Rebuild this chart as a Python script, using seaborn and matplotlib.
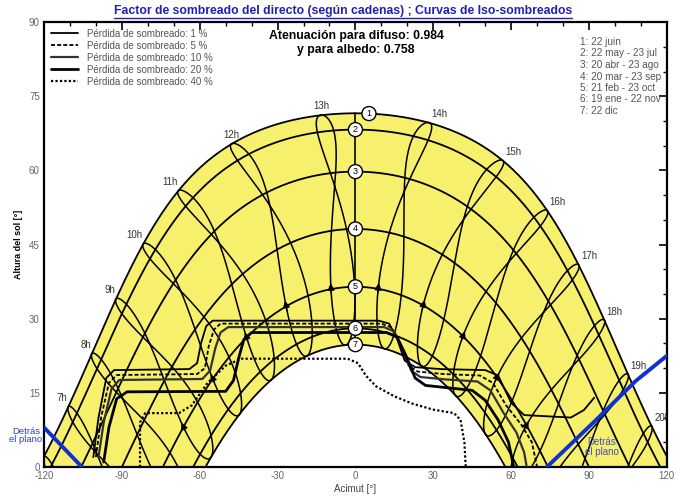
import numpy as np
import pandas as pd
import matplotlib
matplotlib.use("Agg")
import matplotlib.pyplot as plt
from matplotlib.lines import Line2D
from matplotlib.ticker import MultipleLocator
import seaborn as sns

# ---------------- data ----------------
LATITUDE = 41.85            # from noon altitudes of curves 1 and 7
TIME_OFFSET_H = 1.283       # legal time minus mean solar time (from hour loops)

date_ids = ["1", "2", "3", "4", "5", "6", "7"]
date_labels = ["1: 22 juin", "2: 22 may - 23 jul", "3: 20 abr - 23 ago",
               "4: 20 mar - 23 sep", "5: 21 feb - 23 oct", "6: 19 ene - 22 nov",
               "7: 22 dic"]
date_declinations = [23.4, 20.1, 11.6, 0.0, -11.7, -20.1, -23.4]
circle_hour_angles = [1.8, 0, 0, 0, 0, 0, 0]

hours = list(range(6, 21))
hour_labels = [f"{h}h" for h in hours]

loss_labels = ["Pérdida de sombreado: 1 %", "Pérdida de sombreado: 5 %",
               "Pérdida de sombreado: 10 %", "Pérdida de sombreado: 20 %",
               "Pérdida de sombreado: 40 %"]

iso1_az = [-101, -99, -96, -93, -64, -61, -59.5, -57.5, -55, 9, 13, 16, 19, 23, 33, 50, 55, 60, 65, 83, 88, 92]
iso1_alt = [2, 10, 18, 19.6, 19.8, 21, 25, 28.5, 29.6, 29.6, 29, 26, 21.5, 20.2, 19.8, 19.6, 18.5, 13, 10.5, 10, 11.5, 14]
iso5_az = [-100, -98, -95, -92, -61, -58, -56.5, -54.5, -52, 10, 14, 17.5, 20.5, 24, 34, 48, 53, 58, 64, 68, 70]
iso5_alt = [2, 10, 17, 18.6, 18.8, 20, 24.5, 27.8, 29.0, 29.0, 28.2, 24.5, 20.5, 19.3, 18.8, 18.5, 17, 12.5, 8.5, 5, 0]
iso10_az = [-99, -97, -94, -91, -59, -56, -54, -52, -49, 11, 15, 18.5, 21.5, 25, 35, 47, 52, 57, 62, 65, 66]
iso10_alt = [2, 9, 15.8, 17.6, 17.8, 19.5, 24, 27.2, 28.3, 28.3, 27.4, 23.5, 19.5, 18.2, 17.7, 17.3, 15.5, 11, 7, 3, 0]
iso20_az = [-97, -95, -92, -88, -50, -47, -45, -43, -40, 12, 16, 19.5, 23, 27, 36, 45, 50, 55, 59, 61]
iso20_alt = [1, 8, 13.8, 15.2, 15.3, 17.5, 22, 25.8, 27.2, 27.2, 26.3, 22.5, 18, 16.5, 16, 15.5, 13.5, 9.5, 5, 0]
iso40_az = [-83, -83, -81, -68, -63, -57, -50, -44, -3, 1, 4, 8, 15, 22, 30, 38, 40.5, 42, 42.5]
iso40_alt = [0, 9, 10.9, 10.9, 12.5, 17, 20.5, 21.9, 21.9, 21, 18.5, 16.3, 14.3, 12.8, 11.6, 10.9, 9.5, 5, 0]

plane_left_az = [-120, -105.4]
plane_left_alt = [8.0, 0.0]
plane_right_az = [73.8, 92.7, 108, 120]
plane_right_alt = [0.0, 9.5, 17.4, 22.5]

# ---------------- solar geometry ----------------
def sun_pos(dec_deg, h_deg):
    lat = np.radians(LATITUDE)
    d = np.radians(dec_deg)
    h = np.radians(h_deg)
    s = np.sin(lat) * np.sin(d) + np.cos(lat) * np.cos(d) * np.cos(h)
    alt = np.degrees(np.arcsin(np.clip(s, -1, 1)))
    az = np.degrees(np.arctan2(np.sin(h), np.cos(h) * np.sin(lat) - np.tan(d) * np.cos(lat)))
    return az, alt

def day_dec_eot(n):
    b = 2 * np.pi * (n - 1) / 365.0
    dec = (0.006918 - 0.399912 * np.cos(b) + 0.070257 * np.sin(b) - 0.006758 * np.cos(2 * b)
           + 0.000907 * np.sin(2 * b) - 0.002697 * np.cos(3 * b) + 0.00148 * np.sin(3 * b))
    eot = 229.18 * (0.000075 + 0.001868 * np.cos(b) - 0.032077 * np.sin(b)
                    - 0.014615 * np.cos(2 * b) - 0.040849 * np.sin(2 * b))
    return np.degrees(dec), eot

def segments(az, alt):
    pos = alt > 0
    out = []
    start = None
    for i, p in enumerate(pos):
        if p and start is None:
            start = i
        if (not p or i == len(pos) - 1) and start is not None:
            end = i + 1 if p else i
            if end - start > 1:
                out.append((az[start:end], alt[start:end]))
            start = None
    return out

def line(ax, x, y, **kw):
    df = pd.DataFrame({"x": np.asarray(x, float), "y": np.asarray(y, float)})
    sns.lineplot(data=df, x="x", y="y", sort=False, estimator=None, ax=ax, **kw)

# ---------------- figure ----------------
sns.set_theme(style="white")
plt.rcParams["font.family"] = ["Liberation Sans", "DejaVu Sans"]
plt.rcParams["axes.unicode_minus"] = False

fig = plt.figure(figsize=(6.77, 4.96), dpi=100)
ax = fig.add_axes([0.065, 0.0585, 0.920, 0.897])
ax.set_xlim(-120, 120)
ax.set_ylim(0, 90)

H = np.linspace(-180, 180, 1441)
curves = []
for dec in date_declinations:
    az, alt = sun_pos(dec, H)
    m = alt >= 0
    curves.append((az[m], alt[m]))

# yellow sun region
grid = np.linspace(-120, 120, 961)
azj, altj = curves[0]
azd, altd = curves[-1]
upper = np.interp(grid, azj, altj)
lower = np.clip(np.interp(grid, azd, altd, left=0, right=0), 0, None)
ax.fill_between(grid, lower, upper, color="#F7F06C", lw=0, zorder=1)

# date curves
for az, alt in curves:
    line(ax, az, alt, color="black", lw=1.3, zorder=3)

# meridian
az0, alt_top = sun_pos(date_declinations[0], 0.0)
az0, alt_bot = sun_pos(date_declinations[-1], 0.0)
line(ax, [0, 0], [alt_bot, alt_top], color="black", lw=1.2, zorder=3)

# hour loops (legal time)
days = ((np.arange(366) + 355) % 365) + 1
days = np.append(days, days[0])
dec_y, eot_y = day_dec_eot(days.astype(float))
for h, lab in zip(hours, hour_labels):
    ha_deg = 15 * (h - TIME_OFFSET_H + eot_y / 60.0 - 12)
    az, alt = sun_pos(dec_y, ha_deg)
    for sa, sl in segments(az, alt):
        line(ax, sa, sl, color="black", lw=1.1, zorder=3)
    # label at the June solstice
    dj, ej = day_dec_eot(172.0)
    a_l, h_l = sun_pos(dj, 15 * (h - TIME_OFFSET_H + ej / 60.0 - 12))
    if h <= 11:
        ha, dx = "right", -0.3
    elif h <= 13:
        ha, dx = "center", 0
    else:
        ha, dx = "left", 0.8
    if h_l > 0:
        ax.text(a_l + dx, h_l + 0.8, lab, ha=ha, va="bottom", fontsize=7,
                color="#333333", zorder=6, clip_on=True)
    # direction arrow (late February)
    d1, e1 = day_dec_eot(np.array([47.0, 53.0]))
    pa, pl = sun_pos(d1, 15 * (h - TIME_OFFSET_H + e1 / 60.0 - 12))
    if pl.min() > 3 and -115 < pa[0] < 115:
        ax.annotate("", xy=(pa[1], pl[1]), xytext=(pa[0], pl[0]),
                    arrowprops=dict(arrowstyle="-|>", color="black", lw=1.0,
                                    mutation_scale=10, shrinkA=0, shrinkB=0),
                    zorder=4)

# iso-shading curves
iso_sets = [(iso1_az, iso1_alt, dict(color="black", lw=1.3)),
            (iso5_az, iso5_alt, dict(color="black", lw=1.3, dashes=(2.2, 1.2))),
            (iso10_az, iso10_alt, dict(color="#333333", lw=1.6)),
            (iso20_az, iso20_alt, dict(color="black", lw=2.0)),
            (iso40_az, iso40_alt, dict(color="black", lw=1.6, dashes=(1, 1)))]
for xs, ys, st in iso_sets:
    kw = dict(st)
    dashes = kw.pop("dashes", None)
    df = pd.DataFrame({"x": xs, "y": ys})
    sns.lineplot(data=df, x="x", y="y", sort=False, estimator=None, ax=ax, zorder=4, **kw)
    if dashes is not None:
        ax.lines[-1].set_dashes(dashes)

# plane limit lines
line(ax, plane_left_az, plane_left_alt, color="#1030D0", lw=2.8, zorder=5)
line(ax, plane_right_az, plane_right_alt, color="#1030D0", lw=2.8, zorder=5)
ax.text(-127, 6.3, "Detrás\nel plano", color="#3040C0", fontsize=6.8, ha="center",
        va="center", linespacing=0.9, clip_on=False, zorder=0.5)
ax.text(95, 4.0, "Detrás\nel plano", color="#4050C0", fontsize=7, ha="center",
        va="center", linespacing=0.95, zorder=6)

# circled date numbers
for i, (did, dec) in enumerate(zip(date_ids, date_declinations)):
    ca, cl = sun_pos(dec, circle_hour_angles[i])
    ax.text(ca, cl, did, ha="center", va="center", fontsize=6.5, color="black", zorder=7,
            bbox=dict(boxstyle="circle,pad=0.28", fc="white", ec="black", lw=1.0))

# axes styling
ax.set_xticks(range(-120, 121, 30))
ax.set_yticks(range(0, 91, 15))
ax.xaxis.set_minor_locator(MultipleLocator(10))
ax.yaxis.set_minor_locator(MultipleLocator(5))
ax.tick_params(which="both", direction="in", top=True, right=True, color="black",
               labelsize=7, labelcolor="#666666", pad=3)
ax.tick_params(which="major", length=6, width=1.2)
ax.tick_params(which="minor", length=3, width=1.0)
for sp in ax.spines.values():
    sp.set_color("black")
    sp.set_linewidth(1.6)
ax.set_xlabel("Acimut [°]", fontsize=7, color="#444444", labelpad=2)
ax.set_ylabel("Altura del sol [°]", fontsize=6.5, color="black", fontweight="bold", labelpad=4)
ax.grid(False)

# legend
handles = [Line2D([], [], color="black", lw=1.3),
           Line2D([], [], color="black", lw=1.3, dashes=(2.2, 1.2)),
           Line2D([], [], color="#333333", lw=1.6),
           Line2D([], [], color="black", lw=2.0),
           Line2D([], [], color="black", lw=1.6, dashes=(1, 1))]
leg = ax.legend(handles, loss_labels, loc="upper left", bbox_to_anchor=(0.0, 1.0),
                frameon=False, fontsize=7, handlelength=2.8, handletextpad=0.9,
                labelspacing=0.2, borderpad=0.5, borderaxespad=0.2, labelcolor="#555555")
leg.set_zorder(8)

# date list
for i, lab in enumerate(date_labels):
    fig.text(580 / 677, 1 - (42 + 11.5 * i) / 496, lab, fontsize=7.2, color="#555555",
             ha="left", va="center")

# titles
title = "Factor de sombreado del directo (según cadenas) ; Curvas de Iso-sombreados"
t = fig.text(0.507, 1 - 11 / 496, title, color="#2020B8", fontsize=8.8,
             fontweight="bold", ha="center", va="center")
fig.canvas.draw()
bb = t.get_window_extent().transformed(fig.transFigure.inverted())
fig.add_artist(Line2D([bb.x0, bb.x1], [bb.y0 - 0.002, bb.y0 - 0.002],
                      transform=fig.transFigure, color="#2020B8", lw=1.0))
fig.text(0.526, 1 - 43 / 496, "Atenuación para difuso: 0.984\ny para albedo: 0.758",
         fontsize=8.8, fontweight="bold", color="black", ha="center", va="center",
         multialignment="center", linespacing=1.3)

fig.savefig("out.png", dpi=100)
